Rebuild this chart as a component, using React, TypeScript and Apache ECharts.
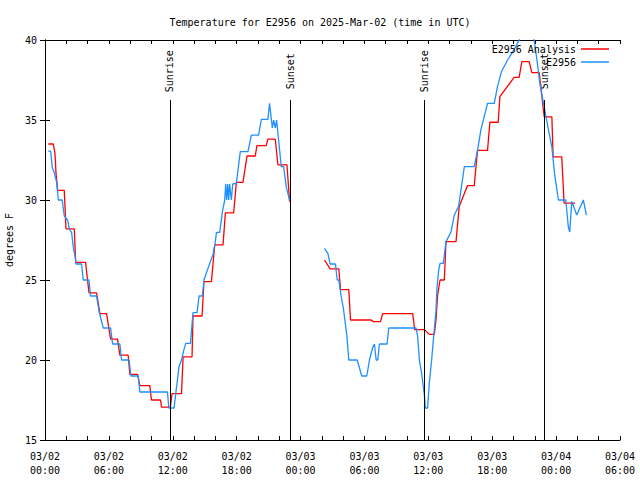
import React, { useEffect, useRef } from "react";
import * as echarts from "echarts";

// Hours since 2025-03-02 00:00 UTC
const analysisHours = [
  0.31, 0.78, 0.94, 1.03, 1.19, 1.81, 1.97, 2.75, 2.88, 3.81, 4.13, 4.84, 5.16, 5.78,
  6.16, 6.81, 7.03, 7.81, 7.97, 8.69, 8.91, 9.84, 10.0, 10.85, 10.94, 11.78, 11.93,
  12.82, 12.97, 13.81, 13.9, 14.75, 14.93, 15.63, 15.94, 16.72, 16.94, 17.72, 17.97,
  18.59, 18.97, 19.75, 19.9, 20.78, 20.93, 21.63, 21.87, 22.72, 22.97,
  24.5,
  26.25, 26.78, 27.59, 27.75, 28.53, 28.69, 30.63, 30.84, 31.5, 31.72, 34.53, 34.72,
  35.63, 36.09, 36.56, 36.72, 36.87, 37.1, 37.5, 37.66, 38.6, 38.9, 39.68, 40.31,
  40.62, 41.56, 41.78, 42.56, 42.72, 44.06, 44.53, 44.78, 45.47, 45.72, 46.41, 46.88,
  47.6, 47.72, 48.53, 48.75, 49.78,
];
const analysisTemps: (number | null)[] = [
  33.5, 33.5, 32.9, 31.7, 30.6, 30.6, 28.2, 28.2, 26.1, 26.1, 24.2, 24.2, 22.9, 22.9,
  21.3, 21.3, 20.3, 20.3, 19.1, 19.1, 18.4, 18.4, 17.5, 17.5, 17.06, 17.06, 17.9,
  17.9, 20.2, 20.2, 22.75, 22.75, 24.9, 24.9, 27.2, 27.2, 29.2, 29.2, 31.1,
  31.1, 32.75, 32.75, 33.4, 33.4, 33.8, 33.8, 32.2, 32.2, 29.9,
  null,
  26.25, 25.7, 25.7, 24.4, 24.4, 22.5, 22.5, 22.4, 22.4, 22.9, 22.9, 21.9,
  21.9, 21.6, 21.6, 22.5, 24.06, 25.0, 25.0, 27.4, 27.4, 29.6, 30.9, 30.9,
  33.1, 33.1, 34.86, 34.86, 36.46, 37.67, 37.67, 38.65, 38.65, 37.96, 37.96, 35.2,
  35.2, 32.7, 32.7, 29.8, 29.8,
];

const obsHours = [
  0.31, 0.53, 0.68, 0.87, 1.1, 1.25, 1.62, 1.81, 2.13, 2.28, 2.5, 2.65, 2.88, 2.91,
  3.44, 3.59, 4.13, 4.28, 4.84, 5.09, 5.47, 6.16, 6.35, 7.03, 7.19, 7.9, 8.06, 8.75,
  8.91, 11.5, 11.63, 12.12, 12.28, 12.59, 12.82, 13.03, 13.22, 13.66, 13.9, 14.28,
  14.47, 14.78, 14.93, 15.47, 15.78, 16.0, 16.1, 16.41, 16.66, 16.88, 16.97, 17.06,
  17.16, 17.25, 17.34, 17.5, 17.63, 17.97, 18.34, 19.06, 19.38, 20.06, 20.32, 20.93,
  21.09, 21.35, 21.47, 21.63, 21.75, 22.19, 22.41, 22.66, 22.97, 23.06,
  24.5,
  26.25, 26.56, 26.78, 27.28, 27.44, 27.59, 27.81, 28.03, 28.34, 28.53, 29.32, 29.53,
  29.75, 30.22, 30.47, 30.78, 30.94, 31.1, 31.25, 31.41, 32.13, 32.28, 34.85, 35.0,
  35.16, 35.37, 35.53, 35.63, 35.72, 35.93, 36.09, 36.31, 36.47, 36.72, 36.81, 36.97,
  37.1, 37.41, 37.66, 38.13, 38.44, 38.84, 39.06, 39.38, 40.31, 40.62, 40.94, 41.56,
  42.19, 42.5, 42.87, 43.44, 44.06, 44.53, 45.0, 45.47, 45.94, 46.25, 46.47, 46.88,
  47.28, 47.6, 47.88, 48.22, 48.91, 49.15, 49.28, 49.47, 49.94, 50.56, 50.84,
];
const obsTemps: (number | null)[] = [
  33.06, 33.06, 32.04, 31.7, 31.1, 30.0, 30.0, 29.0, 28.75, 28.2, 27.96, 27.1, 26.25, 26.0,
  26.0, 25.0, 25.0, 24.0, 24.0, 23.0, 22.0, 22.0, 21.0, 21.0, 20.0, 20.0, 19.0, 19.0,
  18.0, 18.0, 17.0, 17.0, 17.9, 19.6, 20.0, 20.6, 21.04, 21.04, 22.96, 22.96,
  24.0, 24.0, 25.0, 26.04, 26.6, 27.4, 27.98, 27.98, 29.27, 30.0, 31.0, 30.0,
  31.0, 30.0, 31.0, 30.0, 31.0, 31.04, 33.02, 33.02, 34.06, 34.06, 35.04, 35.04,
  36.04, 34.5, 35.0, 34.5, 35.0, 32.08, 32.08, 30.8, 30.0, 30.0,
  null,
  26.98, 26.67, 26.0, 26.0, 25.0, 25.0, 24.0, 23.2, 21.56, 20.0, 20.0, 19.5,
  19.0, 19.0, 20.0, 20.8, 21.0, 20.0, 20.0, 21.0, 21.0, 22.0, 22.0, 21.46,
  20.0, 19.17, 18.33, 17.8, 17.0, 17.0, 18.54, 20.0, 21.25, 23.1, 24.5, 25.6,
  26.04, 26.04, 27.4, 28.0, 29.06, 29.6, 30.6, 32.08, 32.08, 33.1, 34.4, 36.04,
  36.04, 37.1, 38.02, 38.75, 39.4, 40.0, 40.6, 40.6, 40.0, 38.5, 37.3, 35.8,
  34.4, 33.3, 31.5, 30.0, 30.0, 28.3, 28.0, 29.9, 29.06, 30.0, 29.06,
];

const sunLabels = ["Sunrise", "Sunset", "Sunrise", "Sunset"];
const sunHours = [11.72, 23.02, 35.63, 46.88];
const sunLineTop = 36.25;
const sunLabelAt = 38.05;

const yTicks = { min: 15, max: 40, step: 5 };
const xTicks = { min: 0, max: 54, step: 2, labelEvery: 6 };

const FONT = "'DejaVu Sans Mono', 'Liberation Mono', monospace";

function pairs(hs: number[], vs: (number | null)[]) {
  return hs.map((h, i) => [h, vs[i] === null ? "-" : vs[i]]);
}

export default function App() {
  const ref = useRef<HTMLDivElement>(null);
  useEffect(() => {
    if (!ref.current) return;
    const chart = echarts.init(ref.current, undefined, { renderer: "svg" });

    const markData: any[] = sunHours.map((h) => [
      { coord: [h, yTicks.min] },
      { coord: [h, sunLineTop] },
    ]);

    const tickFmt = (v: number) => {
      if (v % xTicks.labelEvery !== 0) return "";
      const day = 2 + Math.floor(v / 24);
      const hr = v % 24;
      return `03/${String(day).padStart(2, "0")}\n${String(hr).padStart(2, "0")}:00`;
    };

    const axisLine = { show: true, lineStyle: { color: "#000", width: 1 } };

    chart.setOption({
      animation: false,
      title: {
        text: "Temperature for E2956 on 2025-Mar-02 (time in UTC)",
        left: "center",
        top: 12,
        textStyle: { fontFamily: FONT, fontSize: 10, fontWeight: "normal", color: "#000" },
      },
      legend: {
        orient: "vertical",
        right: 31,
        top: 44,
        padding: 0,
        align: "right",
        icon: "rect",
        itemWidth: 28,
        itemHeight: 1.5,
        itemGap: 3,
        textStyle: { fontFamily: FONT, fontSize: 10, color: "#000" },
        data: ["E2956 Analysis", "E2956"],
      },
      grid: { left: 45, right: 20, top: 40, bottom: 40, outerBoundsMode: "none" },
      xAxis: [
        {
          type: "value",
          min: xTicks.min,
          max: xTicks.max,
          interval: xTicks.step,
          axisLine,
          axisTick: { show: true, inside: true, length: 4, lineStyle: { color: "#000" } },
          axisLabel: {
            formatter: tickFmt,
            fontFamily: FONT,
            fontSize: 10,
            color: "#000",
            margin: 9,
            lineHeight: 14,
            showMinLabel: true,
            showMaxLabel: true,
          },
          splitLine: { show: false },
        },
        {
          type: "value",
          position: "top",
          min: xTicks.min,
          max: xTicks.max,
          interval: xTicks.step,
          axisLine,
          axisTick: { show: true, inside: true, length: 4, lineStyle: { color: "#000" } },
          axisLabel: { show: false },
          splitLine: { show: false },
        },
      ],
      yAxis: [
        {
          type: "value",
          min: yTicks.min,
          max: yTicks.max,
          interval: yTicks.step,
          name: "degrees F",
          nameLocation: "middle",
          nameGap: 28,
          nameTextStyle: { fontFamily: FONT, fontSize: 10, color: "#000" },
          axisLine,
          axisTick: { show: true, inside: true, length: 5, lineStyle: { color: "#000" } },
          axisLabel: { fontFamily: FONT, fontSize: 10, color: "#000", margin: 8 },
          splitLine: { show: false },
        },
        {
          type: "value",
          position: "right",
          min: yTicks.min,
          max: yTicks.max,
          interval: yTicks.step,
          axisLine,
          axisTick: { show: true, inside: true, length: 5, lineStyle: { color: "#000" } },
          axisLabel: { show: false },
          splitLine: { show: false },
        },
      ],
      series: [
        {
          name: "E2956 Analysis",
          type: "line",
          data: pairs(analysisHours, analysisTemps),
          showSymbol: false,
          symbol: "none",
          color: "#ff0000",
          lineStyle: { color: "#ff0000", width: 1.3 },
          clip: true,
          markLine: {
            silent: true,
            symbol: ["none", "none"],
            lineStyle: { color: "#000", width: 1, type: "solid" },
            label: { show: false },
            data: markData,
          },
        },
        {
          name: "E2956",
          type: "line",
          data: pairs(obsHours, obsTemps),
          showSymbol: false,
          symbol: "none",
          color: "#1e90ff",
          lineStyle: { color: "#1e90ff", width: 1.3 },
          clip: true,
        },
        {
          name: "sun",
          type: "scatter",
          silent: true,
          symbolSize: 0,
          itemStyle: { opacity: 1, color: "#000" },
          data: sunHours.map((h) => [h, sunLabelAt]),
          label: {
            show: true,
            position: "inside",
            rotate: 90,
            formatter: (p: any) => sunLabels[p.dataIndex],
            color: "#000",
            opacity: 1,
            fontFamily: FONT,
            fontSize: 10,
          },
        },
      ],
    });
    return () => chart.dispose();
  }, []);
  return (
    <div
      ref={ref}
      style={{ position: "absolute", left: 0, top: 0, width: 640, height: 480, background: "#fff" }}
    />
  );
}
